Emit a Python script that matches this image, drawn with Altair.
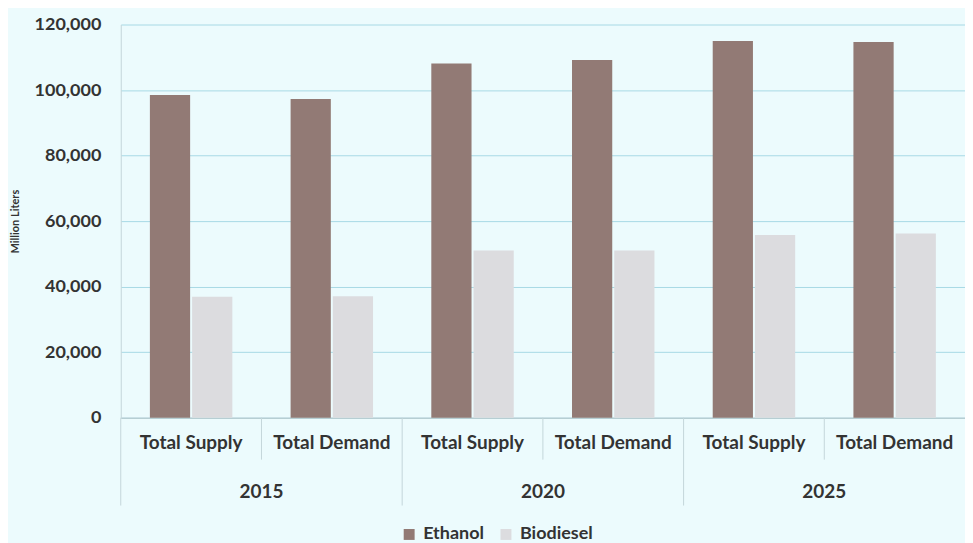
import altair as alt
import pandas as pd

years = ["2015", "2015", "2020", "2020", "2025", "2025"]
measures = ["Total Supply", "Total Demand", "Total Supply", "Total Demand", "Total Supply", "Total Demand"]
ethanol = [98500, 97300, 108100, 109200, 115000, 114700]
biodiesel = [36900, 37100, 51000, 51000, 55800, 56200]
series = ["Ethanol", "Biodiesel"]
colors = ["#927a75", "#dcdcdf"]
y_ticks = [0, 20000, 40000, 60000, 80000, 100000, 120000]

keys = [f"{y}|{m}" for y, m in zip(years, measures)]
rows = []
for k, y, m, e, b in zip(keys, years, measures, ethanol, biodiesel):
    rows.append({"key": k, "year": y, "measure": m, "series": "Ethanol", "value": e})
    rows.append({"key": k, "year": y, "measure": m, "series": "Biodiesel", "value": b})
df = pd.DataFrame(rows)

sep_rows = []
prev = None
for k, y in zip(keys, years):
    sep_rows.append({"key": k, "long": y != prev})
    prev = y
sep = pd.DataFrame(sep_rows)

year_rows = [{"key": k, "year": y} for k, y, m in zip(keys, years, measures) if m == "Total Demand"]
yl = pd.DataFrame(year_rows)

W, H = 846, 394
FONT = "Lato"
TXT = "#333333"

xscale = alt.Scale(domain=keys, paddingInner=0, paddingOuter=0)

bars = alt.Chart(df).mark_bar().encode(
    x=alt.X("key:N", scale=xscale, sort=keys,
            axis=alt.Axis(title=None, labelExpr="split(datum.label, '|')[1]", labelAngle=0,
                          ticks=False, labelPadding=16, labelFont=FONT, labelFontSize=19,
                          labelFontWeight="bold", labelColor=TXT, domainColor="#b4c4c8",
                          domainWidth=1)),
    xOffset=alt.XOffset("series:N", sort=series,
                        scale=alt.Scale(domain=series, paddingInner=0.047, paddingOuter=0.69)),
    y=alt.Y("value:Q", scale=alt.Scale(domain=[0, 120000], nice=False),
            axis=alt.Axis(title="Million Liters", values=y_ticks, labelOverlap=False,
                          format=",d", ticks=False, labelPadding=20, labelFont=FONT, labelFontSize=18,
                          labelFontWeight="bold", labelColor=TXT, titleFont=FONT, titleFontSize=11,
                          titleFontWeight="bold", titleColor=TXT, titlePadding=14,
                          gridColor="#a8d9e5", gridWidth=1, domainColor="#c4d6da")),
    color=alt.Color("series:N", sort=series, scale=alt.Scale(domain=series, range=colors),
                    legend=alt.Legend(title=None, orient="none", direction="horizontal",
                                      legendX=280, legendY=502, symbolType="square",
                                      symbolSize=120, symbolStrokeWidth=0, labelFont=FONT,
                                      labelFontSize=18, labelFontWeight="bold", labelColor=TXT,
                                      columnPadding=13, labelOffset=5, padding=0)),
)

seps_short = alt.Chart(sep).transform_filter("!datum.long").mark_rule(color="#c4d6da", strokeWidth=1).encode(
    x=alt.X("key:N", scale=xscale, sort=keys, bandPosition=0),
    y=alt.value(H), y2=alt.value(H + 42),
)
seps_long = alt.Chart(sep).transform_filter("datum.long").mark_rule(color="#c4d6da", strokeWidth=1).encode(
    x=alt.X("key:N", scale=xscale, sort=keys, bandPosition=0),
    y=alt.value(H), y2=alt.value(H + 88),
)
year_text = alt.Chart(yl).mark_text(font=FONT, fontSize=19, fontWeight="bold", color=TXT,
                                    baseline="middle", align="center").encode(
    x=alt.X("key:N", scale=xscale, sort=keys, bandPosition=0),
    y=alt.value(H + 74),
    text="year:N",
)

chart = alt.layer(bars, seps_short, seps_long, year_text).properties(
    width=W, height=H, background="#ecfbfd",
    padding={"left": 1, "top": 7, "right": 0, "bottom": 0},
).configure_view(stroke=None)

chart.save("out.html", embed_options={"renderer": "svg", "actions": False})
